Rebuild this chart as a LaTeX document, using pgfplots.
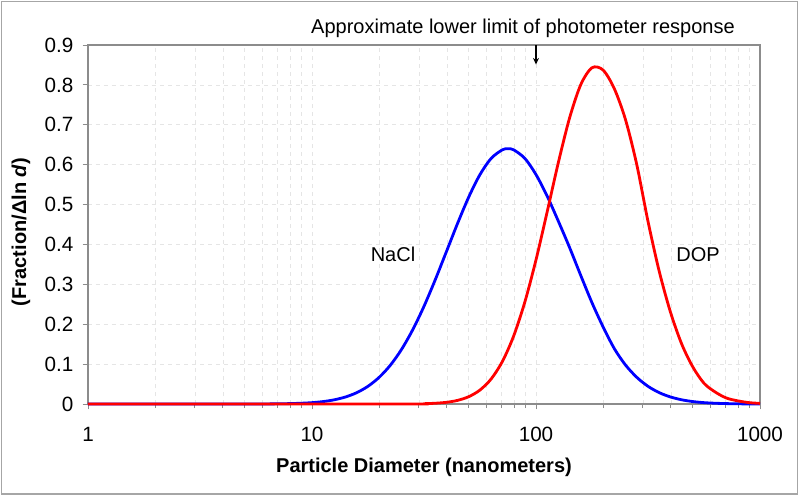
\documentclass[border=0pt]{standalone}
\usepackage{pgfplots}
\pgfplotsset{compat=1.18}
\usepackage{fontspec}
\setmainfont{Liberation Sans}
\usetikzlibrary{arrows.meta}
\begin{document}
\begin{tikzpicture}
\path[use as bounding box, fill=white] (-66pt,-69pt) rectangle (534pt,303pt);
\draw[black!35, line width=0.9pt] (-64.9pt,-67.5pt) rectangle (532.1pt,301.9pt);
\begin{axis}[
  at={(0pt,0pt)}, anchor=south west,
  scale only axis, width=504pt, height=269.25pt,
  xmode=log, xmin=1, xmax=1000, ymin=0, ymax=0.9,
  xtick={1,10,100,1000}, xticklabels={1,10,100,1000},
  ytick={0,0.1,0.2,0.3,0.4,0.5,0.6,0.7,0.8,0.9},
  yticklabels={0,0.1,0.2,0.3,0.4,0.5,0.6,0.7,0.8,0.9},
  tick pos=left, tick align=outside,
  major tick length=4pt, minor tick length=3pt,
  tick style={black!45, line width=0.7pt},
  axis line style={black!45, line width=0.8pt},
  grid=both,
  major grid style={black!10, dash pattern=on 3pt off 3pt, line width=0.5pt},
  minor grid style={black!10, dash pattern=on 3pt off 3pt, line width=0.5pt},
  ticklabel style={font=\fontsize{15.5}{17}\selectfont},
  xticklabel style={yshift=-10pt},
  yticklabel style={xshift=-3.5pt},
  clip=false,
]

% NaCl
\addplot[blue, line width=2.1pt, smooth] coordinates {
  (1,0) (5.012,0) (6.310,0.0002) (7.079,0.0005) (7.943,0.001) (8.913,0.0019)
  (10,0.0034) (11.22,0.0061) (12.59,0.0106) (14.13,0.0177) (15.85,0.0285)
  (17.78,0.0444) (19.95,0.0669) (22.39,0.0974) (25.12,0.1371) (28.18,0.1864)
  (31.62,0.2449) (35.48,0.3111) (39.81,0.3818) (44.67,0.4529) (50.12,0.5192)
  (56.23,0.5752) (63.10,0.6159) (70.79,0.6373) (74.99,0.64) (79.43,0.6373)
  (89.13,0.6159) (100,0.5752) (112.2,0.521) (125.9,0.458) (141.3,0.392)
  (158.5,0.322) (177.8,0.254) (199.5,0.193) (223.9,0.1385) (251.2,0.0974)
  (281.8,0.0669) (316.2,0.0444) (354.8,0.0285) (398.1,0.0177) (446.7,0.0106)
  (501.2,0.0061) (562.3,0.0034) (631.0,0.0019) (707.9,0.0010) (794.3,0.0005)
  (891.3,0.0002) (1000,0.0001)
};

% DOP
\addplot[red, line width=2.1pt, smooth] coordinates {
  (1,0) (25.12,0) (31.62,0.0008) (35.48,0.0019) (39.81,0.0042) (44.67,0.0091)
  (50.12,0.0184) (56.23,0.0350) (63.10,0.0629) (70.79,0.1066) (79.43,0.1699)
  (89.13,0.2553) (100,0.3613) (112.2,0.4820) (125.9,0.6059) (141.3,0.7176)
  (158.5,0.8008) (177.8,0.8430) (199.5,0.8370) (223.9,0.7900)
  (251.2,0.712) (281.8,0.600) (316.2,0.458) (354.8,0.333) (398.1,0.231)
  (446.7,0.151) (501.2,0.093) (562.3,0.052) (631.0,0.030) (707.9,0.015)
  (794.3,0.008) (891.3,0.0035) (1000,0.0015)
};

\node[font=\fontsize{15}{17}\selectfont] at (axis cs:23,0.374) {NaCl};
\node[font=\fontsize{15}{17}\selectfont] at (axis cs:529,0.374) {DOP};
\draw[-{Stealth[length=5pt,width=4.5pt]}, line width=1pt] (axis cs:100,0.9) -- (axis cs:100,0.851);
\end{axis}

\node[font=\fontsize{15}{17}\selectfont] at (326.25pt,282pt) {Approximate lower limit of photometer response};
\node[font=\bfseries\fontsize{15}{17}\selectfont] at (252pt,-47.25pt) {Particle Diameter (nanometers)};
\node[rotate=90, font=\bfseries\fontsize{15}{17}\selectfont] at (-50.25pt,129pt) {(Fraction/Δln \textit{d})};
\end{tikzpicture}
\end{document}
